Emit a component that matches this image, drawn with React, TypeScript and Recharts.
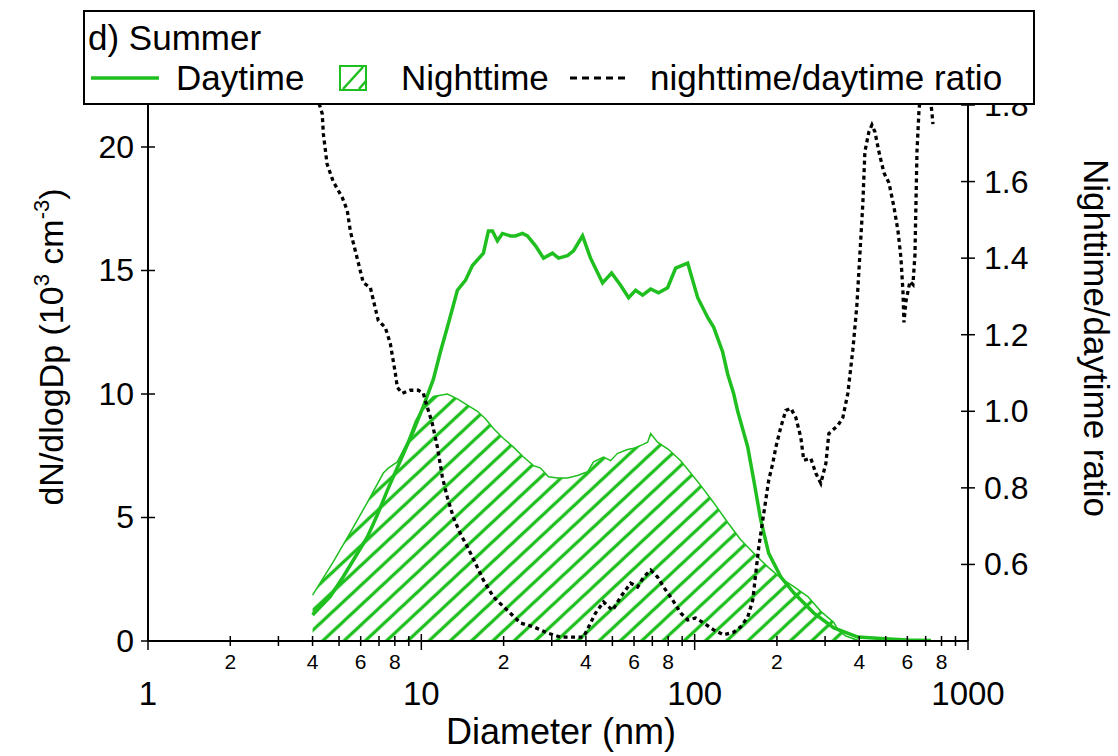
import { ComposedChart, Area, Line, XAxis, YAxis } from 'recharts'

const GREEN = '#1fbf1f'
const FONT = '"Liberation Sans", Arial, Helvetica, sans-serif'

// daytime dN/dlogDp (10^3 cm^-3) vs diameter (nm)
const dayDiameter = [4.0, 4.64, 5.18, 5.73, 6.34, 6.9, 7.51, 8.38, 9.35, 10.17, 11.07, 11.74, 12.45, 13.55, 14.5, 15.38, 16.87, 17.6, 18.2, 18.98, 19.8, 21.18, 22.1, 23.44, 24.45, 26.17, 27.99, 30.19, 31.76, 34.26, 36.05, 38.89, 41.59, 46.03, 49.66, 53.58, 57.32, 60.81, 64.5, 69.02, 73.79, 79.63, 85.2, 94.28, 102.6, 111.6, 117.4, 126.6, 132.1, 139.0, 143.7, 156.4, 164.6, 174.5, 186.6, 206.5, 230.4, 272.9, 323.1, 395.5, 480.2, 600, 731.9]
const dayConc = [1.05, 1.8, 2.6, 3.4, 4.2, 5.1, 6.1, 7.3, 8.5, 9.5, 10.6, 11.7, 12.7, 14.2, 14.6, 15.2, 15.7, 16.6, 16.6, 16.2, 16.5, 16.4, 16.4, 16.5, 16.4, 16.0, 15.5, 15.7, 15.5, 15.6, 15.8, 16.4, 15.5, 14.5, 14.9, 14.4, 13.9, 14.2, 14.0, 14.25, 14.1, 14.3, 15.1, 15.3, 13.9, 13.1, 12.7, 11.7, 10.8, 10.0, 9.3, 7.85, 6.5, 4.9, 3.55, 2.6, 1.95, 1.13, 0.53, 0.16, 0.1, 0.04, 0.02]

// nighttime dN/dlogDp
const nightDiameter = [4.0, 4.76, 5.5, 6.34, 7.26, 7.57, 8.17, 8.89, 9.51, 10.17, 11.07, 12.45, 13.55, 14.74, 16.04, 17.16, 18.36, 19.97, 21.73, 23.64, 25.73, 27.29, 29.19, 31.49, 34.26, 37.29, 40.57, 42.66, 46.42, 49.24, 52.24, 56.84, 59.8, 64.5, 67.29, 69.02, 73.17, 80.31, 88.87, 96.67, 105.2, 117.4, 132.1, 147.4, 164.6, 185.1, 206.5, 230.4, 259.4, 289.4, 323.1, 334.2, 357.4, 395.5]
const nightConc = [1.86, 3.2, 4.4, 5.6, 6.8, 7.0, 7.25, 8.05, 8.9, 9.5, 9.9, 10.0, 9.8, 9.55, 9.3, 9.0, 8.6, 8.2, 7.85, 7.45, 7.1, 7.0, 6.65, 6.6, 6.6, 6.7, 6.85, 7.25, 7.45, 7.3, 7.6, 7.75, 7.8, 7.95, 8.05, 8.4, 8.05, 7.75, 7.3, 6.8, 6.3, 5.6, 4.8, 4.1, 3.55, 3.0, 2.55, 2.2, 1.8, 1.2, 0.75, 0.45, 0.2, 0.03]

// nighttime/daytime ratio (right axis)
const ratioDiameter = [4.0, 4.34, 4.38, 4.52, 4.76, 5.14, 5.36, 5.5, 5.73, 5.98, 6.13, 6.51, 6.78, 6.96, 7.38, 7.7, 8.03, 8.17, 8.52, 9.11, 9.75, 10.17, 10.34, 10.97, 11.45, 11.94, 12.45, 13.1, 13.9, 14.74, 15.77, 16.87, 18.36, 20.65, 23.05, 25.73, 28.94, 32.3, 36.05, 39.22, 41.59, 43.39, 46.42, 50.08, 53.58, 58.3, 61.84, 65.05, 69.02, 73.17, 76.98, 83.07, 88.87, 94.28, 100.8, 107.9, 117.4, 127.7, 139.0, 147.4, 156.4, 163.2, 167.3, 171.6, 177.5, 182.0, 186.6, 193.1, 198.1, 206.5, 215.4, 224.7, 234.4, 244.5, 250.7, 266.0, 277.5, 289.4, 302.0, 309.7, 334.2, 348.5, 363.4, 379.1, 392.1, 402.2, 412.5, 419.5, 434.0, 445.1, 456.5, 472.1, 492.5, 513.7, 535.8, 554.2, 568.4, 578.1, 583.0, 592.9, 613.3, 628.9, 639.7, 645.1, 650.6, 661.6, 695.9, 738.0, 744.3]
const ratioValue = [1.86, 1.777, 1.725, 1.646, 1.6, 1.558, 1.524, 1.47, 1.42, 1.367, 1.336, 1.323, 1.27, 1.237, 1.219, 1.177, 1.1, 1.062, 1.047, 1.055, 1.055, 1.047, 1.028, 0.968, 0.906, 0.828, 0.775, 0.723, 0.68, 0.646, 0.603, 0.559, 0.515, 0.48, 0.447, 0.437, 0.421, 0.41, 0.41, 0.41, 0.447, 0.473, 0.502, 0.48, 0.515, 0.551, 0.541, 0.567, 0.585, 0.567, 0.541, 0.507, 0.473, 0.455, 0.46, 0.447, 0.429, 0.416, 0.423, 0.437, 0.463, 0.507, 0.577, 0.645, 0.716, 0.768, 0.82, 0.864, 0.906, 0.958, 1.002, 1.008, 0.984, 0.932, 0.872, 0.877, 0.838, 0.812, 0.864, 0.942, 0.963, 0.984, 1.047, 1.161, 1.276, 1.41, 1.545, 1.678, 1.73, 1.748, 1.73, 1.678, 1.623, 1.597, 1.534, 1.472, 1.401, 1.313, 1.232, 1.287, 1.339, 1.331, 1.41, 1.545, 1.678, 1.785, 1.95, 1.78, 1.75]

const xTicks = [1, 2, 3, 4, 5, 6, 7, 8, 9, 10, 20, 30, 40, 50, 60, 70, 80, 90, 100, 200, 300, 400, 500, 600, 700, 800, 900, 1000]
const xMajor = [1, 10, 100, 1000]
const xMinorLabelled = [2, 4, 6, 8, 20, 40, 60, 80, 200, 400, 600, 800]
const leftTicks = [0, 5, 10, 15, 20]
const rightTicks = [0.6, 0.8, 1.0, 1.2, 1.4, 1.6, 1.8]

type Row = { d: number; day?: number; night?: number; ratio?: number }

function buildRows(): Row[] {
  const byD = new Map<number, Row>()
  const put = (d: number, key: 'day' | 'night' | 'ratio', v: number) => {
    const row = byD.get(d) ?? { d }
    row[key] = v
    byD.set(d, row)
  }
  dayDiameter.forEach((d, i) => put(d, 'day', dayConc[i]))
  nightDiameter.forEach((d, i) => put(d, 'night', nightConc[i]))
  ratioDiameter.forEach((d, i) => put(d, 'ratio', ratioValue[i]))
  return [...byD.values()].sort((a, b) => a.d - b.d)
}

const rows = buildRows()

function XTick(props: any) {
  const { x, y, payload } = props
  const v = payload.value as number
  const major = xMajor.includes(v)
  const labelled = xMinorLabelled.includes(v)
  return (
    <g>
      <line x1={x} x2={x} y1={major ? y - 7 : y - 5} y2={major ? y + 9 : y + 5} stroke="#000" strokeWidth={1.5} />
      {labelled && (
        <text x={x} y={y + 28} textAnchor="middle" fontSize={21} fontFamily={FONT} fill="#000">
          {String(v)[0]}
        </text>
      )}
      {major && (
        <text x={x} y={y + 64} textAnchor="middle" fontSize={33} fontFamily={FONT} fill="#000">
          {v}
        </text>
      )}
    </g>
  )
}

function LeftTick(props: any) {
  const { x, y, payload } = props
  return (
    <g>
      <line x1={x - 7} x2={x + 7} y1={y} y2={y} stroke="#000" strokeWidth={1.5} />
      <text x={x - 14} y={y + 11} textAnchor="end" fontSize={32} fontFamily={FONT} fill="#000">
        {payload.value}
      </text>
    </g>
  )
}

function RightTick(props: any) {
  const { x, y, payload } = props
  return (
    <g>
      <line x1={x - 7} x2={x + 7} y1={y} y2={y} stroke="#000" strokeWidth={1.5} />
      <text x={x + 16} y={y + 11} textAnchor="start" fontSize={32} fontFamily={FONT} fill="#000">
        {(payload.value as number).toFixed(1)}
      </text>
    </g>
  )
}

export default function App() {
  return (
    <div style={{ position: 'absolute', left: 0, top: 0, width: 1118, height: 756, background: '#fff' }}>
      <ComposedChart width={1118} height={756} data={rows} margin={{ top: 105, right: 0, bottom: 0, left: 0 }}>
        <defs>
          <pattern id="nightHatch" patternUnits="userSpaceOnUse" width={14.5} height={14.5} patternTransform="rotate(47)">
            <line x1={7.25} y1={0} x2={7.25} y2={14.5} stroke={GREEN} strokeWidth={3.3} />
          </pattern>
        </defs>
        <XAxis
          dataKey="d"
          type="number"
          scale="log"
          domain={[1, 1000]}
          allowDataOverflow
          ticks={xTicks}
          interval={0}
          height={115}
          tickSize={0}
          tickMargin={0}
          tick={<XTick />}
          axisLine={{ stroke: '#000', strokeWidth: 2 }}
        />
        <YAxis
          yAxisId="left"
          type="number"
          domain={[0, 21.7]}
          allowDataOverflow
          ticks={leftTicks}
          interval={0}
          width={148}
          tickSize={0}
          tickMargin={0}
          tick={<LeftTick />}
          axisLine={{ stroke: '#000', strokeWidth: 2 }}
        />
        <YAxis
          yAxisId="right"
          orientation="right"
          type="number"
          domain={[0.4, 1.8]}
          allowDataOverflow
          ticks={rightTicks}
          interval={0}
          width={150}
          tickSize={0}
          tickMargin={0}
          tick={<RightTick />}
          axisLine={{ stroke: '#000', strokeWidth: 2 }}
        />
        <Area
          yAxisId="left"
          dataKey="night"
          type="linear"
          connectNulls
          fill="url(#nightHatch)"
          fillOpacity={1}
          stroke={GREEN}
          strokeWidth={1.5}
          dot={false}
          activeDot={false}
          isAnimationActive={false}
        />
        <Line
          yAxisId="left"
          dataKey="day"
          type="linear"
          connectNulls
          stroke={GREEN}
          strokeWidth={3.5}
          dot={false}
          activeDot={false}
          isAnimationActive={false}
        />
        <Line
          yAxisId="right"
          dataKey="ratio"
          type="linear"
          connectNulls
          stroke="#000"
          strokeWidth={3.3}
          strokeDasharray="4 3.5"
          dot={false}
          activeDot={false}
          isAnimationActive={false}
        />
      </ComposedChart>

      <svg width={1118} height={756} style={{ position: 'absolute', left: 0, top: 0, pointerEvents: 'none' }} fontFamily={FONT}>
        {/* axis titles */}
        <text transform="translate(63,347) rotate(-90)" textAnchor="middle" fontSize={34} fill="#000">
          dN/dlogDp (10
          <tspan dy={-14} fontSize={22}>3</tspan>
          <tspan dy={14}> cm</tspan>
          <tspan dy={-14} fontSize={22}>-3</tspan>
          <tspan dy={14}>)</tspan>
        </text>
        <text transform="translate(1084,338) rotate(90)" textAnchor="middle" fontSize={35} fill="#000">
          Nighttime/daytime ratio
        </text>
        <text x={561} y={744} textAnchor="middle" fontSize={36} fill="#000">
          Diameter (nm)
        </text>

        {/* legend box */}
        <rect x={84} y={11} width={950} height={93} fill="#fff" stroke="#000" strokeWidth={2} />
        <text x={88} y={50} fontSize={35} fill="#000">d) Summer</text>
        <line x1={91} x2={159} y1={78} y2={78} stroke={GREEN} strokeWidth={3.5} />
        <text x={176} y={90} fontSize={35} fill="#000">Daytime</text>
        <rect x={340} y={66} width={26} height={24} fill="#fff" stroke={GREEN} strokeWidth={2} />
        <line x1={343} y1={89} x2={363} y2={67} stroke={GREEN} strokeWidth={2.5} />
        <line x1={359} y1={89} x2={366} y2={81} stroke={GREEN} strokeWidth={2.5} />
        <text x={401} y={90} fontSize={35} fill="#000">Nighttime</text>
        <line x1={570} x2={630} y1={78} y2={78} stroke="#000" strokeWidth={3} strokeDasharray="7 5" />
        <text x={650} y={90} fontSize={35} fill="#000">nighttime/daytime ratio</text>
      </svg>
    </div>
  )
}
